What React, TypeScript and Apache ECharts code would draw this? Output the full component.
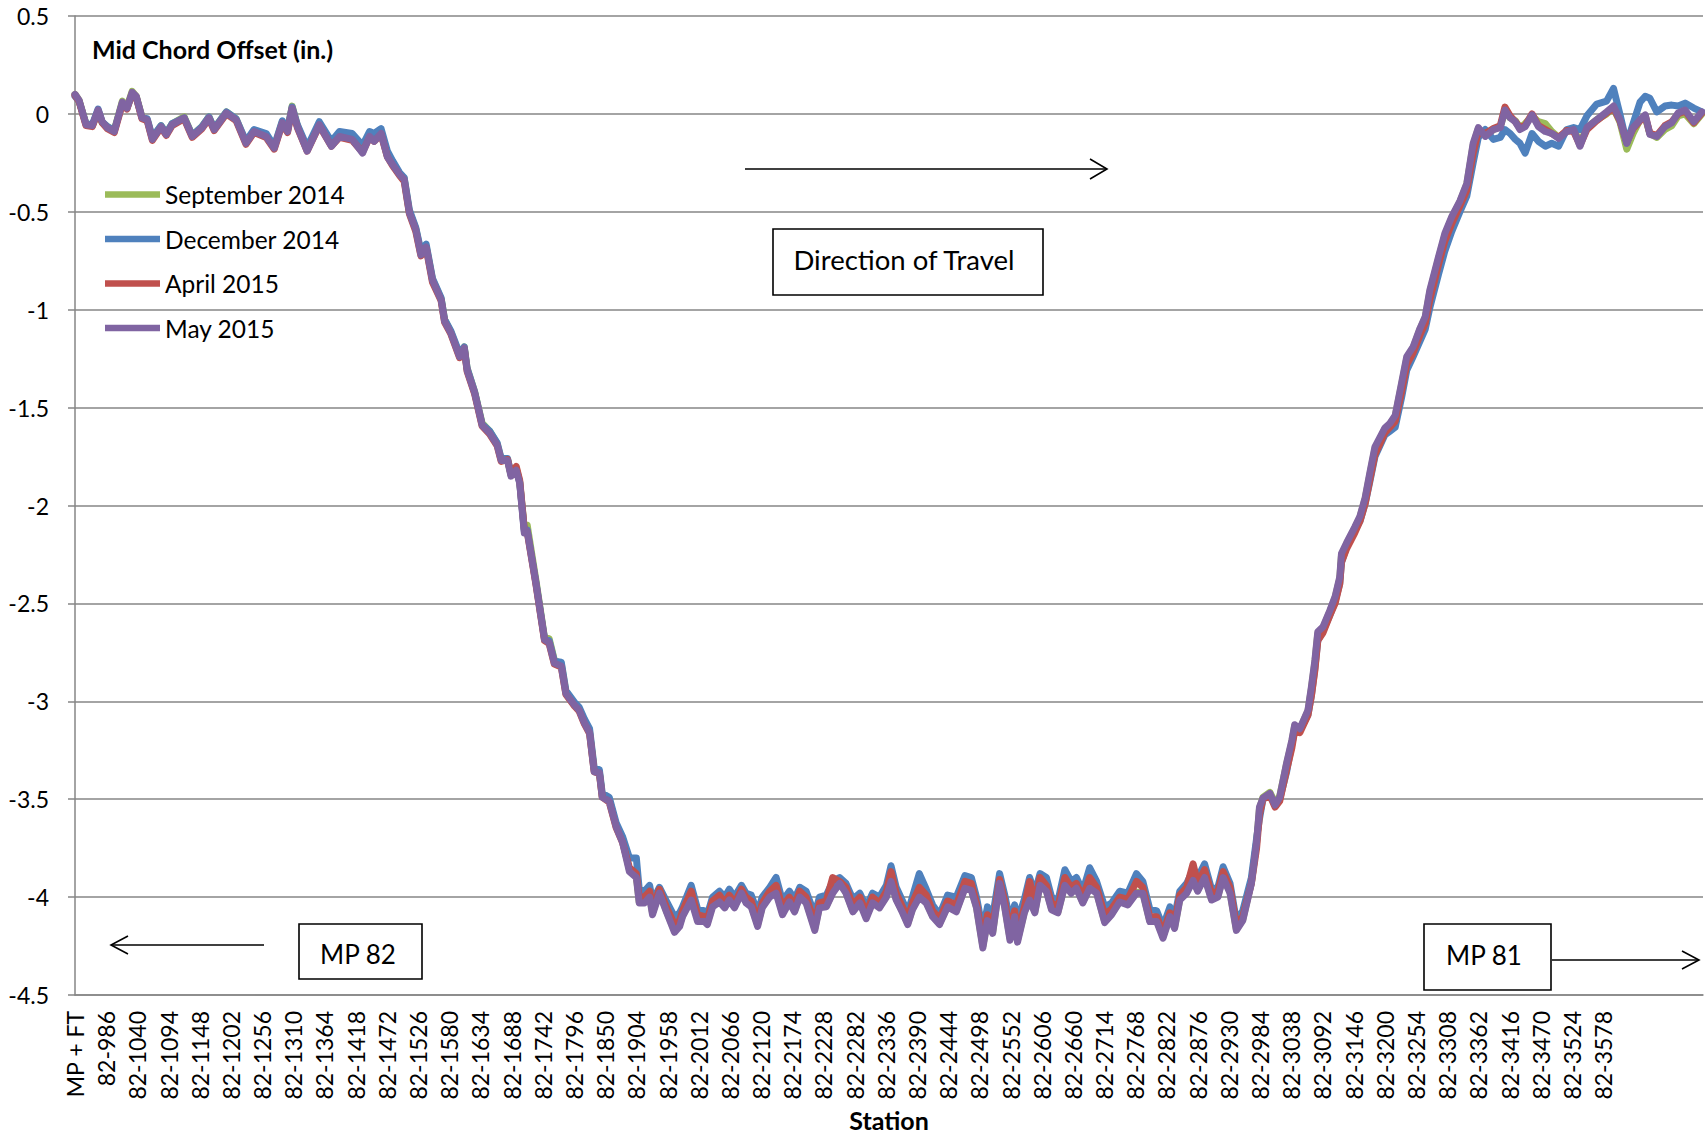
import React, { useEffect, useRef } from "react";
import * as echarts from "echarts";

// ---------- data ----------
const STATION0 = 932; // first category ("MP + FT") sits at the axis
const LAST_LABEL = 3578;
const X_MAX = 2819; // feet past STATION0 at right edge

const stations = [
  932, 939, 951, 962, 972, 979, 988, 1000, 1014, 1022,
  1031, 1038, 1048, 1057, 1066, 1081, 1090, 1100, 1121, 1135,
  1152, 1164, 1173, 1194, 1211, 1228, 1242, 1263, 1277, 1291,
  1300, 1308, 1317, 1334, 1355, 1376, 1390, 1412, 1430, 1442,
  1450, 1462, 1473,
  1482, 1494, 1502, 1511, 1522, 1531, 1540, 1551, 1566, 1572,
  1583, 1598, 1606, 1611, 1624, 1637, 1650, 1663, 1670, 1681,
  1687, 1696, 1702, 1710, 1715, 1730, 1745, 1753, 1762, 1774,
  1782, 1797, 1805, 1814, 1823, 1831, 1840, 1845, 1857, 1869,
  1880, 1892, 1904,
  1909, 1918, 1927, 1932, 1944, 1956, 1970, 1979, 1984, 1999,
  2010, 2022, 2027, 2036, 2048, 2057, 2065, 2074, 2086, 2094,
  2103, 2114, 2122, 2135, 2146, 2157, 2169, 2178, 2187, 2198,
  2213, 2221, 2233, 2244, 2256, 2267, 2279, 2291, 2302, 2313,
  2325, 2337, 2345, 2354, 2365, 2374, 2382, 2394, 2406, 2417,
  2429,
  2443, 2458, 2473, 2484, 2493, 2504, 2512, 2521, 2533, 2542,
  2551, 2559, 2564, 2576, 2585, 2594, 2603, 2614, 2623, 2634,
  2646, 2657, 2666, 2677, 2689, 2701, 2715, 2727, 2741, 2755,
  2770, 2781, 2793, 2805, 2816, 2828, 2836, 2845, 2857, 2868,
  2876, 2888, 2900, 2911, 2920, 2932, 2943, 2954, 2969, 2978,
  2983, 2989, 3001, 3010, 3018, 3030, 3039, 3044, 3053, 3067,
  3073, 3079, 3084, 3093, 3105, 3114, 3122, 3125, 3134, 3148,
  3157, 3166, 3174, 3183, 3200, 3209, 3218, 3229, 3238, 3249,
  3261, 3270, 3278, 3293, 3304, 3316, 3330, 3342, 3353, 3362,
  3374, 3388, 3400, 3408, 3417, 3426, 3434, 3443, 3455, 3466,
  3478, 3489, 3501, 3515, 3527, 3538, 3550, 3567, 3584, 3596,
  3607, 3619, 3630, 3642, 3651, 3659, 3671, 3685, 3697, 3708,
  3720, 3735, 3749,
];

const sep2014 = [
  0.10, 0.07, -0.05, -0.06, 0.015, -0.045, -0.065, -0.085, 0.065, 0.035,
  0.115, 0.09, -0.015, -0.03, -0.125, -0.06, -0.1, -0.05, -0.015, -0.11,
  -0.065, -0.015, -0.075, 0.01, -0.025, -0.145, -0.085, -0.11, -0.17, -0.04,
  -0.085, 0.04, -0.06, -0.185, -0.05, -0.16, -0.11, -0.125, -0.19, -0.11,
  -0.135, -0.095, -0.215,
  -0.255, -0.305, -0.33, -0.5, -0.585, -0.71, -0.675, -0.845, -0.945, -1.05,
  -1.115, -1.235, -1.19, -1.3, -1.42, -1.58, -1.62, -1.685, -1.765, -1.765,
  -1.845, -1.81, -1.88, -2.12, -2.1, -2.38, -2.675, -2.68, -2.79, -2.81,
  -2.95, -3.015, -3.04, -3.1, -3.155, -3.35, -3.36, -3.485, -3.5, -3.635,
  -3.71, -3.86, -3.89,
  -4.025, -4.02, -3.995, -4.08, -3.975, -4.07, -4.17, -4.14, -4.095, -4.01,
  -4.11, -4.12, -4.13, -4.04, -4.02, -4.05, -4.01, -4.05, -3.97, -4.02,
  -4.045, -4.14, -4.05, -3.99, -3.97, -4.08, -4.02, -4.07, -3.995, -4.025,
  -4.16, -4.05, -4.045, -3.975, -3.925, -3.975, -4.07, -4.025, -4.1, -4.025,
  -4.05, -3.995, -3.915, -4.01, -4.075, -4.135, -4.06, -3.995, -4.025, -4.095,
  -4.135,
  -4.045, -4.07, -3.95, -3.96, -4.05, -4.25, -4.115, -4.18, -3.925, -4.05,
  -4.21, -4.095, -4.22, -4.075, -4.01, -4.075, -3.935, -3.965, -4.06, -4.075,
  -3.935, -3.975, -3.95, -4.025, -3.95, -3.975, -4.125, -4.085, -4.02, -4.035,
  -3.975, -3.975, -4.12, -4.12, -4.2, -4.095, -4.155, -4.01, -3.975, -3.91,
  -3.965, -3.895, -4.01, -3.995, -3.895, -3.975, -4.165, -4.115, -3.925, -3.72,
  -3.55, -3.49, -3.465, -3.52, -3.485, -3.32, -3.21, -3.125, -3.14, -3.05,
  -2.935, -2.8, -2.655, -2.625, -2.54, -2.47, -2.375, -2.255, -2.195, -2.115,
  -2.06, -1.965, -1.845, -1.71, -1.61, -1.585, -1.545, -1.385, -1.25, -1.195,
  -1.1, -1.04, -0.91, -0.74, -0.62, -0.53, -0.45, -0.36, -0.16, -0.075,
  -0.11, -0.08, -0.065, 0.015, -0.02, -0.035, -0.07, -0.05, -0.01, -0.04,
  -0.05, -0.09, -0.12, -0.09, -0.075, -0.15, -0.07, -0.03, 0.0, 0.03,
  -0.04, -0.18, -0.1, -0.03, -0.02, -0.1, -0.12, -0.08, -0.06, -0.01,
  0.0, -0.05, 0.0,
];

const dec2014 = [
  0.09, 0.065, -0.05, -0.055, 0.025, -0.04, -0.065, -0.085, 0.055, 0.03,
  0.1, 0.085, -0.02, -0.025, -0.12, -0.06, -0.1, -0.05, -0.02, -0.11,
  -0.065, -0.015, -0.075, 0.01, -0.025, -0.14, -0.08, -0.1, -0.165, -0.035,
  -0.08, 0.035, -0.055, -0.17, -0.04, -0.14, -0.09, -0.1, -0.16, -0.09,
  -0.1, -0.075, -0.19,
  -0.24, -0.3, -0.325, -0.49, -0.58, -0.7, -0.665, -0.84, -0.94, -1.05,
  -1.11, -1.225, -1.19, -1.3, -1.42, -1.585, -1.62, -1.68, -1.76, -1.76,
  -1.84, -1.815, -1.88, -2.13, -2.125, -2.39, -2.68, -2.69, -2.795, -2.8,
  -2.945, -3.005, -3.03, -3.09, -3.14, -3.34, -3.35, -3.47, -3.49, -3.62,
  -3.69, -3.8, -3.8,
  -3.96, -3.97, -3.94, -4.02, -3.95, -4.02, -4.1, -4.08, -4.05, -3.94,
  -4.06, -4.07, -4.09, -4.0, -3.97, -4.0, -3.96, -4.0, -3.94, -3.98,
  -3.99, -4.08, -4.0, -3.95, -3.9, -4.02, -3.97, -4.01, -3.95, -3.97,
  -4.09, -4.0, -3.99, -3.92, -3.9, -3.93, -4.01, -3.98, -4.05, -3.98,
  -4.0, -3.94, -3.84, -3.95, -4.02, -4.08, -4.0, -3.88, -3.96, -4.04,
  -4.09,
  -3.99, -4.0, -3.89, -3.9, -4.0, -4.17, -4.05, -4.1, -3.88, -3.99,
  -4.12, -4.04, -4.12, -4.01, -3.9, -3.98, -3.88, -3.9, -4.0, -4.02,
  -3.86, -3.92, -3.9, -3.97, -3.85, -3.92, -4.05, -4.03, -3.97, -3.98,
  -3.88, -3.92, -4.06, -4.07, -4.15, -4.05, -4.1, -3.97, -3.93, -3.86,
  -3.9, -3.83, -3.96, -3.95, -3.845, -3.93, -4.12, -4.07, -3.9, -3.7,
  -3.6, -3.5, -3.48, -3.52, -3.5, -3.36, -3.22, -3.15, -3.15, -3.07,
  -2.97, -2.83, -2.69, -2.64, -2.56, -2.49, -2.4, -2.29, -2.21, -2.13,
  -2.08, -1.99, -1.88, -1.75, -1.64, -1.62, -1.6, -1.45, -1.31, -1.24,
  -1.16, -1.1, -0.99, -0.82, -0.7, -0.6, -0.5, -0.42, -0.25, -0.12,
  -0.08, -0.13, -0.12, -0.08, -0.1, -0.13, -0.15, -0.2, -0.1, -0.14,
  -0.165, -0.15, -0.165, -0.08, -0.07, -0.08, -0.01, 0.05, 0.065, 0.13,
  0.0, -0.15, -0.05, 0.06, 0.09, 0.08, 0.01, 0.04, 0.045, 0.04,
  0.055, 0.03, 0.01,
];

const apr2015 = [
  0.095, 0.065, -0.06, -0.065, 0.015, -0.045, -0.075, -0.095, 0.05, 0.025,
  0.105, 0.085, -0.025, -0.035, -0.135, -0.07, -0.11, -0.06, -0.025, -0.12,
  -0.075, -0.025, -0.085, 0.0, -0.035, -0.155, -0.095, -0.12, -0.18, -0.05,
  -0.095, 0.025, -0.07, -0.19, -0.06, -0.165, -0.12, -0.135, -0.195, -0.12,
  -0.14, -0.105, -0.22,
  -0.265, -0.315, -0.345, -0.51, -0.6, -0.725, -0.685, -0.86, -0.955, -1.065,
  -1.125, -1.245, -1.2, -1.315, -1.43, -1.595, -1.635, -1.695, -1.775, -1.765,
  -1.84, -1.8, -1.87, -2.12, -2.135, -2.4, -2.69, -2.705, -2.81, -2.825,
  -2.965, -3.025, -3.05, -3.115, -3.165, -3.36, -3.37, -3.49, -3.515, -3.645,
  -3.72, -3.85, -3.88,
  -4.0, -4.0, -3.97, -4.06, -3.96, -4.05, -4.14, -4.12, -4.07, -3.97,
  -4.09, -4.1, -4.11, -4.02, -3.99, -4.03, -3.99, -4.03, -3.96, -4.0,
  -4.02, -4.12, -4.03, -3.97, -3.94, -4.05, -4.0, -4.04, -3.97, -4.0,
  -4.13, -4.03, -4.02, -3.9, -3.92, -3.95, -4.04, -4.0, -4.08, -4.0,
  -4.03, -3.97, -3.87, -3.98, -4.05, -4.11, -4.03, -3.95, -3.99, -4.07,
  -4.11,
  -4.02, -4.04, -3.92, -3.93, -4.03, -4.22, -4.09, -4.15, -3.91, -4.02,
  -4.18, -4.07, -4.18, -4.05, -3.92, -4.03, -3.9, -3.94, -4.03, -4.05,
  -3.9, -3.95, -3.93, -4.0, -3.9, -3.95, -4.09, -4.06, -4.0, -4.01,
  -3.92, -3.95, -4.1, -4.1, -4.18, -4.08, -4.13, -3.99, -3.95, -3.83,
  -3.93, -3.86, -3.98, -3.97, -3.87, -3.95, -4.14, -4.1, -3.93, -3.75,
  -3.58, -3.5, -3.48, -3.54, -3.51, -3.35, -3.24, -3.15, -3.16, -3.07,
  -2.97, -2.84, -2.69, -2.65, -2.56, -2.5, -2.4, -2.29, -2.22, -2.14,
  -2.08, -1.99, -1.87, -1.74, -1.63, -1.6, -1.57, -1.42, -1.28, -1.22,
  -1.13, -1.07, -0.95, -0.77, -0.65, -0.56, -0.47, -0.39, -0.2, -0.09,
  -0.1, -0.075, -0.06, 0.035, -0.01, -0.04, -0.07, -0.06, 0.0, -0.06,
  -0.08, -0.1, -0.12, -0.085, -0.09, -0.16, -0.08, -0.035, 0.005, 0.03,
  -0.035, -0.145, -0.075, -0.035, -0.01, -0.1, -0.11, -0.06, -0.04, 0.0,
  0.015, -0.045, 0.005,
];

const may2015 = [
  0.10, 0.07, -0.055, -0.06, 0.02, -0.04, -0.07, -0.09, 0.06, 0.03,
  0.11, 0.09, -0.02, -0.03, -0.13, -0.065, -0.105, -0.055, -0.02, -0.115,
  -0.07, -0.02, -0.08, 0.005, -0.03, -0.15, -0.09, -0.115, -0.175, -0.045,
  -0.09, 0.03, -0.065, -0.19, -0.055, -0.165, -0.115, -0.13, -0.2, -0.115,
  -0.14, -0.1, -0.22,
  -0.26, -0.31, -0.335, -0.505, -0.59, -0.72, -0.68, -0.85, -0.95, -1.06,
  -1.12, -1.24, -1.195, -1.31, -1.425, -1.59, -1.63, -1.69, -1.77, -1.77,
  -1.85, -1.82, -1.885, -2.14, -2.13, -2.395, -2.685, -2.7, -2.805, -2.82,
  -2.96, -3.02, -3.045, -3.11, -3.16, -3.36, -3.365, -3.49, -3.51, -3.64,
  -3.72, -3.87, -3.9,
  -4.03, -4.03, -4.0, -4.09, -3.98, -4.075, -4.18, -4.15, -4.1, -4.015,
  -4.125, -4.125, -4.14, -4.05, -4.025, -4.055, -4.015, -4.055, -3.98, -4.03,
  -4.05, -4.15, -4.055, -4.0, -3.98, -4.09, -4.025, -4.075, -4.0, -4.03,
  -4.17, -4.055, -4.05, -3.98, -3.93, -3.98, -4.075, -4.03, -4.11, -4.03,
  -4.055, -4.0, -3.92, -4.015, -4.08, -4.14, -4.065, -4.0, -4.03, -4.1,
  -4.14,
  -4.05, -4.075, -3.955, -3.965, -4.055, -4.26, -4.12, -4.185, -3.93, -4.055,
  -4.22, -4.1, -4.23, -4.08, -4.015, -4.08, -3.94, -3.97, -4.065, -4.08,
  -3.94, -3.98, -3.955, -4.03, -3.955, -3.98, -4.13, -4.09, -4.025, -4.04,
  -3.98, -3.98, -4.125, -4.125, -4.21, -4.1, -4.16, -4.015, -3.98, -3.915,
  -3.97, -3.9, -4.015, -4.0, -3.9, -3.98, -4.17, -4.12, -3.93, -3.72,
  -3.54, -3.495, -3.47, -3.53, -3.49, -3.315, -3.2, -3.12, -3.14, -3.045,
  -2.925, -2.79, -2.645, -2.62, -2.535, -2.465, -2.365, -2.245, -2.19, -2.11,
  -2.055, -1.96, -1.835, -1.7, -1.605, -1.58, -1.54, -1.375, -1.24, -1.19,
  -1.095, -1.035, -0.9, -0.73, -0.61, -0.525, -0.445, -0.355, -0.15, -0.07,
  -0.115, -0.08, -0.07, 0.02, -0.02, -0.04, -0.08, -0.065, -0.005, -0.065,
  -0.09, -0.1, -0.125, -0.09, -0.08, -0.165, -0.07, -0.03, 0.01, 0.04,
  -0.03, -0.15, -0.07, -0.03, -0.005, -0.105, -0.115, -0.065, -0.045, 0.005,
  0.02, -0.04, 0.01,
];

const seriesNames = ["September 2014", "December 2014", "April 2015", "May 2015"];
const seriesValues = [sep2014, dec2014, apr2015, may2015];
const seriesColors = ["#9BBB59", "#4F81BD", "#C0504D", "#8064A2"];

const Y_MIN = -4.5;
const Y_MAX = 0.5;
const Y_STEP = 0.5;

const FONT = "Lato, 'Open Sans', sans-serif";
const LINE_WIDTH = 7;

export default function App() {
  const ref = useRef<HTMLDivElement>(null);

  useEffect(() => {
    if (!ref.current) return;
    const chart = echarts.init(ref.current, undefined, { renderer: "svg" });

    const series = seriesNames.map((name, si) => ({
      name,
      type: "line",
      data: stations.map((s, i) => [s - STATION0, seriesValues[si][i]]),
      showSymbol: false,
      symbol: "none",
      itemStyle: { color: seriesColors[si] },
      lineStyle: { width: LINE_WIDTH, color: seriesColors[si], cap: "round", join: "round", opacity: 1 },
      emphasis: { disabled: true },
      z: 2 + si,
    }));

    const black = "#000";
    const lw = 1.6;

    chart.setOption({
      animation: false,
      backgroundColor: "#fff",
      grid: { left: 75, right: 2, top: 16, bottom: 141, containLabel: false, outerBoundsMode: "none" },
      xAxis: {
        type: "value",
        min: 0,
        max: X_MAX,
        interval: 54,
        axisLine: { show: true, onZero: false, lineStyle: { color: "#868686", width: 1.5 } },
        axisTick: { show: false },
        splitLine: { show: false },
        axisLabel: {
          rotate: 90,
          margin: 16,
          fontSize: 23,
          fontFamily: FONT,
          color: black,
          showMaxLabel: false,
          formatter: (v: number) => {
            if (v === 0) return "MP + FT";
            const st = Math.round(v + STATION0);
            return st <= LAST_LABEL ? "82-" + st : "";
          },
        },
        name: "Station",
        nameLocation: "middle",
        nameGap: 112,
        nameTextStyle: { fontSize: 25, fontWeight: "bold", fontFamily: FONT, color: black },
      },
      yAxis: {
        type: "value",
        min: Y_MIN,
        max: Y_MAX,
        interval: Y_STEP,
        axisLine: { show: true, lineStyle: { color: "#868686", width: 1.5 } },
        axisTick: { show: true, length: 7, lineStyle: { color: "#868686", width: 1.5 } },
        splitLine: { show: true, lineStyle: { color: "#868686", width: 1.5 } },
        axisLabel: {
          margin: 26,
          fontSize: 23,
          fontFamily: FONT,
          color: black,
          formatter: (v: number) => String(Math.round(v * 10) / 10),
        },
      },
      legend: {
        orient: "vertical",
        left: 100,
        top: 177,
        itemWidth: 55,
        itemHeight: 6.5,
        itemGap: 19.5,
        icon: "rect",
        data: seriesNames,
        textStyle: { fontSize: 24.5, fontFamily: FONT, color: black, lineHeight: 24 },
      },
      series,
      graphic: [
        {
          type: "text",
          x: 92,
          y: 49,
          style: {
            text: "Mid Chord Offset (in.)",
            fontSize: 25,
            fontWeight: "bold",
            fontFamily: FONT,
            fill: black,
            align: "left",
            verticalAlign: "middle",
            textAlign: "left",
            textVerticalAlign: "middle",
          },
        },
        // Direction of travel arrow
        { type: "line", shape: { x1: 745, y1: 169, x2: 1107, y2: 169 }, style: { stroke: black, lineWidth: lw } },
        {
          type: "polyline",
          shape: { points: [[1090, 159], [1107, 169], [1090, 179]] },
          style: { stroke: black, lineWidth: lw, fill: null },
        },
        {
          type: "rect",
          shape: { x: 773, y: 229, width: 270, height: 66 },
          style: { fill: "#fff", stroke: black, lineWidth: lw },
        },
        {
          type: "text",
          x: 904,
          y: 259,
          style: {
            text: "Direction of Travel",
            fontSize: 27.5,
            fontFamily: FONT,
            fill: black,
            align: "center",
            verticalAlign: "middle",
            textAlign: "center",
            textVerticalAlign: "middle",
          },
        },
        // MP 82
        { type: "line", shape: { x1: 111, y1: 945, x2: 264, y2: 945 }, style: { stroke: black, lineWidth: lw } },
        {
          type: "polyline",
          shape: { points: [[128, 936], [111, 945], [128, 954]] },
          style: { stroke: black, lineWidth: lw, fill: null },
        },
        {
          type: "rect",
          shape: { x: 299, y: 924, width: 123, height: 55 },
          style: { fill: "#fff", stroke: black, lineWidth: lw },
        },
        {
          type: "text",
          x: 358,
          y: 954,
          style: {
            text: "MP 82",
            fontSize: 26,
            fontFamily: FONT,
            fill: black,
            align: "center",
            verticalAlign: "middle",
            textAlign: "center",
            textVerticalAlign: "middle",
          },
        },
        // MP 81
        {
          type: "rect",
          shape: { x: 1424, y: 924, width: 127, height: 66 },
          style: { fill: "#fff", stroke: black, lineWidth: lw },
        },
        {
          type: "text",
          x: 1484,
          y: 955,
          style: {
            text: "MP 81",
            fontSize: 26,
            fontFamily: FONT,
            fill: black,
            align: "center",
            verticalAlign: "middle",
            textAlign: "center",
            textVerticalAlign: "middle",
          },
        },
        { type: "line", shape: { x1: 1552, y1: 960, x2: 1699, y2: 960 }, style: { stroke: black, lineWidth: lw } },
        {
          type: "polyline",
          shape: { points: [[1682, 951], [1699, 960], [1682, 969]] },
          style: { stroke: black, lineWidth: lw, fill: null },
        },
      ],
    });

    return () => chart.dispose();
  }, []);

  return (
    <div
      ref={ref}
      style={{ position: "absolute", left: 0, top: 0, width: 1705, height: 1136, background: "#fff" }}
    />
  );
}
